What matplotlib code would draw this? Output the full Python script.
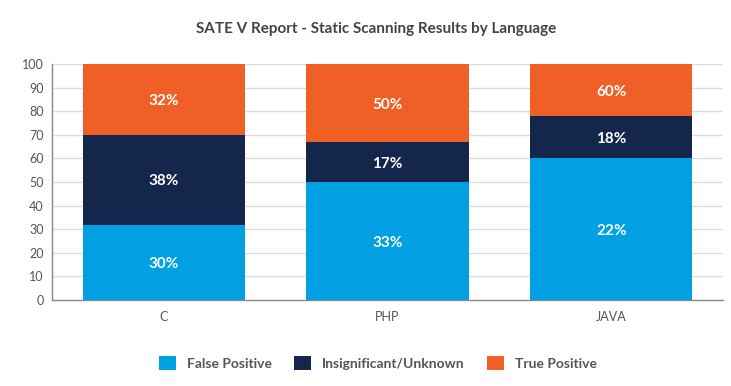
import matplotlib
matplotlib.use("Agg")
import matplotlib.pyplot as plt
from matplotlib.patches import Patch

plt.rcParams['font.family'] = ['Lato', 'DejaVu Sans']

categories = ["C", "PHP", "JAVA"]
series_names = ["False Positive", "Insignificant/Unknown", "True Positive"]
false_positive = [32, 50, 60]
insignificant = [38, 17, 18]
true_positive = [30, 33, 22]
label_false_positive = ["30%", "33%", "22%"]
label_insignificant = ["38%", "17%", "18%"]
label_true_positive = ["32%", "50%", "60%"]
yticks = [0, 10, 20, 30, 40, 50, 60, 70, 80, 90, 100]

colors = ["#00A0E2", "#15264D", "#F06026"]

fig = plt.figure(figsize=(7.31, 3.86), dpi=100)
ax = fig.add_axes([0.0711, 0.2228, 0.918, 0.611])

x = list(range(len(categories)))
width = 0.725
series = [false_positive, insignificant, true_positive]
labels = [label_false_positive, label_insignificant, label_true_positive]
bottom = [0] * len(categories)
for vals, labs, col in zip(series, labels, colors):
    ax.bar(x, vals, width, bottom=bottom, color=col, zorder=3)
    for xi, b, v, lab in zip(x, bottom, vals, labs):
        ax.text(xi, b + v / 2, lab, ha="center", va="center_baseline", color="white",
                fontsize=11, fontweight="bold", zorder=4)
    bottom = [b + v for b, v in zip(bottom, vals)]

ax.set_xlim(-0.5, 2.5)
ax.set_ylim(0, 100)
ax.set_yticks(yticks)
ax.set_xticks(x)
ax.set_xticklabels(categories)
ax.tick_params(axis="both", colors="#555555", labelsize=9, length=0)
ax.tick_params(axis="y", pad=6)
ax.tick_params(axis="x", pad=8)
ax.yaxis.grid(True, color="#DDDDDD", linewidth=1, zorder=0)
ax.set_axisbelow(True)
for s in ["top", "right"]:
    ax.spines[s].set_visible(False)
for s in ["left", "bottom"]:
    ax.spines[s].set_color("#888888")
    ax.spines[s].set_linewidth(1)

fig.text(0.514, 0.925, "SATE V Report - Static Scanning Results by Language",
         ha="center", va="center", fontsize=11, fontweight="bold", color="#444444")

handles = [Patch(facecolor=c, edgecolor="none") for c in colors]
leg = fig.legend(handles, series_names, loc="center", bbox_to_anchor=(0.517, 0.06),
                 ncol=3, frameon=False, handlelength=1.2, handleheight=1.2,
                 columnspacing=1.6, handletextpad=0.8, prop={"size": 10, "weight": "bold"})
for t in leg.get_texts():
    t.set_color("#555555")

fig.savefig("out.png", dpi=100)
